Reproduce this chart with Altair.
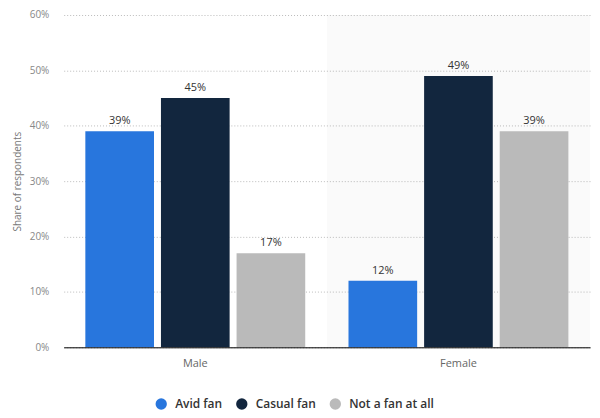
import altair as alt
import pandas as pd

genders = ["Male", "Female"]
categories = ["Avid fan", "Casual fan", "Not a fan at all"]
male_values = [39, 45, 17]
female_values = [12, 49, 39]
colors = ["#2876dd", "#12263e", "#bababa"]
highlight = ["Female"]
y_ticks = [0, 10, 20, 30, 40, 50, 60]

rows = []
for g, vals in zip(genders, [male_values, female_values]):
    for c, v in zip(categories, vals):
        rows.append({"gender": g, "category": c, "value": v, "label": f"{v}%"})
df = pd.DataFrame(rows)
bg = pd.DataFrame({"gender": highlight})

W, H = 529, 334
FONT = "Open Sans"

x_scale = alt.Scale(domain=genders, paddingInner=0, paddingOuter=0)
x_axis = alt.Axis(title=None, labelAngle=0, ticks=False, domain=True,
                  domainColor="#000", domainWidth=1, labelColor="#666",
                  labelFontSize=11, labelPadding=10, labelFont=FONT, grid=False)
y_axis = alt.Axis(title="Share of respondents", values=y_ticks,
                  labelExpr="datum.value + '%'", domain=False, ticks=False,
                  gridDash=[1, 2], gridColor="#bbbbbb", labelColor="#888",
                  labelFont=FONT, labelFontSize=10, labelPadding=15,
                  titleFont=FONT, titleFontSize=10, titleColor="#777",
                  titleFontWeight="normal", titlePadding=7)

background = alt.Chart(bg).mark_rect(color="#000", opacity=0.02).encode(
    x=alt.X("gender:N", sort=genders, scale=x_scale, axis=x_axis),
    y=alt.value(0),
    y2=alt.value(H),
)

xoff = alt.XOffset("category:N", sort=categories,
                   scale=alt.Scale(domain=categories, paddingInner=0.092, paddingOuter=0.286))

bars = alt.Chart(df).mark_bar().encode(
    x=alt.X("gender:N", sort=genders, scale=x_scale, axis=x_axis),
    xOffset=xoff,
    y=alt.Y("value:Q", scale=alt.Scale(domain=[0, 60], nice=False), axis=y_axis),
    color=alt.Color("category:N", sort=categories,
                    scale=alt.Scale(domain=categories, range=colors),
                    legend=alt.Legend(title=None, orient="none", legendX=92, legendY=385,
                                      direction="horizontal", symbolType="circle",
                                      symbolSize=130, symbolStrokeWidth=0,
                                      labelFont=FONT, labelFontSize=12,
                                      labelFontWeight=600, labelColor="#333",
                                      columnPadding=13, labelOffset=8, padding=0)),
)

labels = alt.Chart(df).mark_text(dy=-7, baseline="alphabetic", fontSize=11,
                                 color="#333", font=FONT).encode(
    x=alt.X("gender:N", sort=genders, scale=x_scale, axis=x_axis),
    xOffset=xoff,
    y=alt.Y("value:Q", scale=alt.Scale(domain=[0, 60], nice=False), axis=y_axis),
    text="label:N",
)

chart = alt.layer(background, bars, labels).properties(
    width=W, height=H,
    padding={"left": 56, "top": 6, "right": 2, "bottom": 66},
    autosize="none",
).configure_view(stroke=None)

chart.save("out.html", embed_options={"renderer": "svg", "actions": False})
